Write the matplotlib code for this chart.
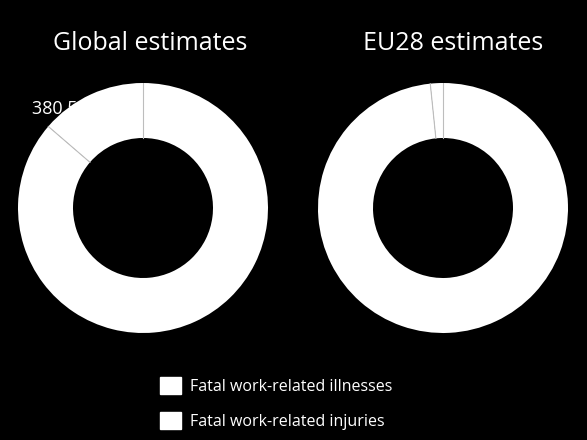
import matplotlib
matplotlib.use("Agg")
import numpy as np
import matplotlib.pyplot as plt
from matplotlib.patches import Patch

plt.rcParams["font.family"] = ["Open Sans", "DejaVu Sans"]

# Fatal work-related deaths
categories = ["Fatal work-related injuries", "Fatal work-related illnesses"]
global_values = [380500, 2400000]
eu28_values = [3300, 200000]
titles = ["Global estimates", "EU28 estimates"]

W, H = 587, 440
fig = plt.figure(figsize=(W / 100, H / 100), dpi=100, facecolor="black")

INNER = 0.56


def donut(cx, cy, r, values):
    ax = fig.add_axes([(cx - r) / W, 1 - (cy + r) / H, 2 * r / W, 2 * r / H])
    ax.set_facecolor("black")
    wedges, _ = ax.pie(values, colors=["white", "white"], startangle=90,
                       counterclock=True, radius=1,
                       wedgeprops=dict(width=1 - INNER, edgecolor="none"))
    # thin grey separators between the slices
    for w in wedges:
        a = np.deg2rad(w.theta1)
        ax.plot([INNER * np.cos(a), np.cos(a)], [INNER * np.sin(a), np.sin(a)],
                color="#bdbdbd", lw=0.8)
    ax.set_xlim(-1, 1)
    ax.set_ylim(-1, 1)
    ax.axis("off")
    return ax


ax1 = donut(143, 208, 125, global_values)
ax2 = donut(443, 208, 125, eu28_values)

# value label, white on white so mostly hidden by the wedge
fig.text(32 / W, 1 - 114 / H, f"{global_values[0]:,}".replace(",", " "),
         color="white", fontsize=13, ha="left", va="baseline", zorder=0)

fig.text(150 / W, 1 - 44 / H, titles[0], color="white", fontsize=18,
         ha="center", va="center")
fig.text(453 / W, 1 - 44 / H, titles[1], color="white", fontsize=18,
         ha="center", va="center")

handles = [Patch(facecolor="white", edgecolor="white", label=categories[1]),
           Patch(facecolor="white", edgecolor="white", label=categories[0])]
leg = fig.legend(handles=handles, loc="upper left",
                 bbox_to_anchor=(160 / W, 1 - 377 / H), frameon=False,
                 fontsize=11.5, handlelength=1.3, handleheight=1.3,
                 handletextpad=0.6, labelspacing=1.05,
                 borderpad=0, borderaxespad=0)
for t in leg.get_texts():
    t.set_color("white")

fig.savefig("out.png", dpi=100, facecolor="black")
